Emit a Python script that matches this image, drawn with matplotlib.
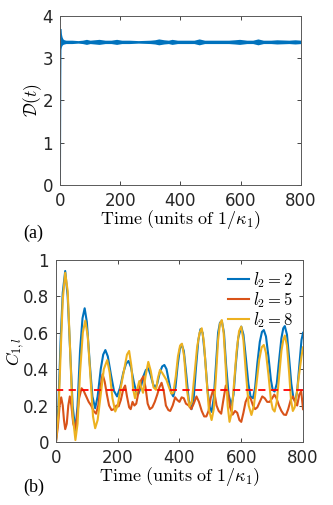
import matplotlib
matplotlib.use("Agg")
import matplotlib.pyplot as plt

plt.rcParams['mathtext.fontset'] = 'cm'
plt.rcParams['font.family'] = ['DejaVu Sans']

# ---- panel (a): D(t) ----
d_rise_t = [0, 1, 2]
d_rise = [0.15, 2.5, 3.66]

band_t = [2, 4, 7, 10, 14, 20, 40, 60, 75, 88, 100, 115, 130, 150, 170, 188, 205, 230,
          260, 300, 315, 328, 345, 360, 372, 390, 420, 445, 462, 480, 520, 560, 580,
          596, 620, 640, 657, 675, 700, 720, 760, 780, 800]
band_hi = [3.69, 3.6, 3.5, 3.45, 3.43, 3.42, 3.42, 3.41, 3.42, 3.44, 3.42, 3.43, 3.44,
           3.42, 3.42, 3.44, 3.42, 3.42, 3.41, 3.42, 3.43, 3.45, 3.43, 3.42, 3.44, 3.42,
           3.42, 3.42, 3.45, 3.42, 3.42, 3.42, 3.43, 3.44, 3.42, 3.42, 3.45, 3.42, 3.42,
           3.43, 3.42, 3.43, 3.42]
band_lo = [3.2, 3.25, 3.3, 3.32, 3.33, 3.34, 3.34, 3.35, 3.34, 3.32, 3.34, 3.33, 3.32,
           3.34, 3.34, 3.32, 3.34, 3.34, 3.35, 3.34, 3.33, 3.31, 3.33, 3.34, 3.32, 3.34,
           3.34, 3.34, 3.31, 3.34, 3.34, 3.34, 3.33, 3.32, 3.34, 3.34, 3.31, 3.34, 3.34,
           3.33, 3.34, 3.33, 3.34]

# ---- panel (b): C_{1,l} ----
t2 = [0, 8, 15, 22, 30, 38, 46, 54, 63, 70, 78, 86, 93, 100, 110, 118, 127, 135, 145,
      153, 160, 168, 178, 188, 198, 208, 218, 227, 235, 243, 252, 260, 267, 275, 283,
      291, 299, 306, 314, 321, 328, 336, 344, 351, 358, 366, 373, 380, 387, 394, 401,
      407, 414, 422, 430, 439, 446, 453, 461, 468, 475, 483, 491, 498, 504, 511, 518,
      525, 531, 537, 544, 551, 559, 568, 575, 582, 590, 600, 607, 615, 623, 630, 638,
      645, 652, 660, 667, 673, 680, 688, 696, 702, 708, 715, 722, 730, 736, 741, 748,
      755, 762, 769, 775, 781, 788, 795, 800]
c_l2 = [0.0, 0.2, 0.55, 0.82, 0.94, 0.8, 0.5, 0.2, 0.06, 0.2, 0.5, 0.68, 0.735, 0.66,
        0.42, 0.25, 0.185, 0.25, 0.4, 0.48, 0.505, 0.47, 0.37, 0.28, 0.25, 0.3, 0.38,
        0.43, 0.445, 0.41, 0.33, 0.275, 0.265, 0.3, 0.36, 0.395, 0.405, 0.37, 0.32,
        0.297, 0.32, 0.38, 0.415, 0.423, 0.4, 0.33, 0.27, 0.25, 0.3, 0.42, 0.51, 0.537,
        0.5, 0.37, 0.23, 0.18, 0.24, 0.4, 0.56, 0.62, 0.6, 0.46, 0.28, 0.19, 0.165,
        0.24, 0.42, 0.6, 0.655, 0.665, 0.6, 0.42, 0.26, 0.2, 0.26, 0.42, 0.57, 0.634,
        0.59, 0.46, 0.32, 0.25, 0.24, 0.3, 0.43, 0.55, 0.605, 0.615, 0.58, 0.47, 0.34,
        0.285, 0.277, 0.32, 0.44, 0.57, 0.625, 0.637, 0.59, 0.46, 0.32, 0.24, 0.222,
        0.28, 0.42, 0.56, 0.6]

t8 = [0, 8, 15, 22, 30, 38, 46, 54, 63, 70, 78, 87, 95, 103, 112, 120, 127, 135, 145,
      155, 166, 174, 183, 192, 200, 210, 220, 230, 237, 244, 250, 256, 263, 270, 276,
      282, 290, 299, 307, 316, 324, 330, 337, 344, 351, 358, 366, 374, 380, 388, 395,
      402, 408, 415, 423, 432, 440, 448, 457, 465, 472, 479, 487, 495, 504, 511, 518,
      525, 531, 537, 543, 550, 556, 562, 569, 577, 585, 593, 600, 607, 615, 624, 633,
      641, 650, 658, 666, 673, 680, 688, 696, 702, 708, 715, 722, 730, 736, 741, 748,
      755, 761, 767, 773, 780, 788, 795, 800]
c_l8 = [0.0, 0.15, 0.48, 0.78, 0.93, 0.83, 0.5, 0.15, 0.01, 0.1, 0.38, 0.6, 0.667,
        0.58, 0.35, 0.14, 0.075, 0.12, 0.26, 0.4, 0.45, 0.38, 0.24, 0.167, 0.2, 0.3,
        0.39, 0.48, 0.5, 0.42, 0.29, 0.24, 0.29, 0.335, 0.3, 0.27, 0.36, 0.44, 0.39,
        0.3, 0.286, 0.35, 0.396, 0.38, 0.36, 0.34, 0.3, 0.265, 0.27, 0.36, 0.47, 0.53,
        0.54, 0.47, 0.3, 0.194, 0.22, 0.36, 0.52, 0.6, 0.625, 0.55, 0.36, 0.18, 0.12,
        0.18, 0.36, 0.56, 0.65, 0.67, 0.6, 0.4, 0.2, 0.11, 0.16, 0.33, 0.5, 0.61, 0.634,
        0.56, 0.38, 0.2, 0.148, 0.2, 0.33, 0.45, 0.52, 0.533, 0.49, 0.37, 0.23, 0.18,
        0.167, 0.22, 0.35, 0.5, 0.56, 0.585, 0.53, 0.38, 0.23, 0.17, 0.19, 0.27, 0.38,
        0.47, 0.52]

t5 = [0, 6, 12, 17, 22, 26, 30, 35, 40, 45, 50, 56, 62, 68, 75, 83, 90, 98, 106, 114,
      122, 130, 137, 144, 151, 158, 165, 172, 180, 188, 196, 203, 210, 218, 224, 230,
      237, 242, 248, 254, 260, 268, 276, 283, 290, 297, 304, 312, 320, 328, 335, 342,
      349, 356, 364, 370, 378, 386, 393, 400, 407, 414, 421, 430, 438, 446, 455, 463,
      472, 480, 487, 494, 501, 508, 514, 520, 527, 535, 542, 550, 557, 564, 572, 580,
      587, 594, 600, 607, 614, 622, 630, 638, 645, 652, 660, 668, 676, 684, 692, 700,
      707, 714, 722, 730, 738, 745, 752, 760, 767, 774, 781, 788, 794, 800]
c_l5 = [0.0, 0.08, 0.2, 0.245, 0.2, 0.12, 0.07, 0.1, 0.2, 0.25, 0.2, 0.1, 0.07, 0.13,
        0.24, 0.295, 0.28, 0.25, 0.22, 0.2, 0.17, 0.155, 0.2, 0.3, 0.372, 0.33, 0.26,
        0.2, 0.175, 0.18, 0.2, 0.195, 0.23, 0.29, 0.31, 0.25, 0.19, 0.18, 0.22, 0.2,
        0.21, 0.28, 0.34, 0.36, 0.3, 0.21, 0.18, 0.19, 0.22, 0.26, 0.3, 0.325, 0.28,
        0.2, 0.175, 0.17, 0.2, 0.245, 0.23, 0.22, 0.245, 0.24, 0.21, 0.2, 0.18, 0.21,
        0.25, 0.22, 0.17, 0.14, 0.14, 0.17, 0.24, 0.28, 0.26, 0.2, 0.17, 0.155, 0.23,
        0.31, 0.27, 0.19, 0.15, 0.17, 0.16, 0.12, 0.11, 0.16, 0.22, 0.25, 0.24, 0.2,
        0.18, 0.19, 0.22, 0.25, 0.24, 0.22, 0.22, 0.24, 0.26, 0.24, 0.2, 0.17, 0.15,
        0.148, 0.18, 0.23, 0.25, 0.22, 0.2, 0.26, 0.28, 0.18]

c_ref = 2 / 7

blue = '#0072BD'
orange = '#D95319'
yellow = '#EDB120'
axcol = '0.35'
xlab = r'$\mathrm{Time\ (units\ of\ }1/\kappa_1\mathrm{)}$'

fig = plt.figure(figsize=(3.33, 5.05), dpi=100)
ax1 = fig.add_axes([0.180, 0.634, 0.724, 0.335])
ax2 = fig.add_axes([0.168, 0.125, 0.742, 0.360])

ax1.fill_between(band_t, band_lo, band_hi, color=blue, lw=0)
ax1.plot(d_rise_t, d_rise, color=blue, lw=1.5)
ax1.set_xlim(0, 800)
ax1.set_ylim(0, 4)
ax1.set_xticks([0, 200, 400, 600, 800])
ax1.set_yticks([0, 1, 2, 3, 4])
ax1.set_ylabel(r'$\mathcal{D}(t)$', fontsize=12.5, labelpad=-1)
ax1.set_xlabel(xlab, fontsize=13, labelpad=-1)

ax2.plot(t2, c_l2, color=blue, lw=1.5, label=r'$l_2=2$')
ax2.plot(t5, c_l5, color=orange, lw=1.5, label=r'$l_2=5$')
ax2.plot(t8, c_l8, color=yellow, lw=1.5, label=r'$l_2=8$')
ax2.axhline(c_ref, color='red', ls=(0, (4, 3)), lw=1.3)
ax2.set_xlim(0, 800)
ax2.set_ylim(0, 1)
ax2.set_xticks([0, 200, 400, 600, 800])
ax2.set_yticks([0, 0.2, 0.4, 0.6, 0.8, 1])
ax2.set_yticklabels(['0', '0.2', '0.4', '0.6', '0.8', '1'])
ax2.set_ylabel(r'$C_{1,l}$', fontsize=12.5, labelpad=-3)
ax2.set_xlabel(xlab, fontsize=13, labelpad=-1)
ax2.legend(loc='upper right', frameon=False, fontsize=12, handlelength=1.3,
           handletextpad=0.2, labelspacing=0.0, borderaxespad=0.2)

for ax in (ax1, ax2):
    ax.tick_params(direction='in', top=True, right=True, length=3, width=0.6,
                   labelsize=12, colors='0.15', pad=5)
    for s in ax.spines.values():
        s.set_color(axcol)
        s.set_linewidth(0.7)

fig.text(0.07, 0.538, '(a)', fontsize=13, family='Liberation Serif', va='center')
fig.text(0.07, 0.035, '(b)', fontsize=13, family='Liberation Serif', va='center')

fig.savefig('out.png', dpi=100)
